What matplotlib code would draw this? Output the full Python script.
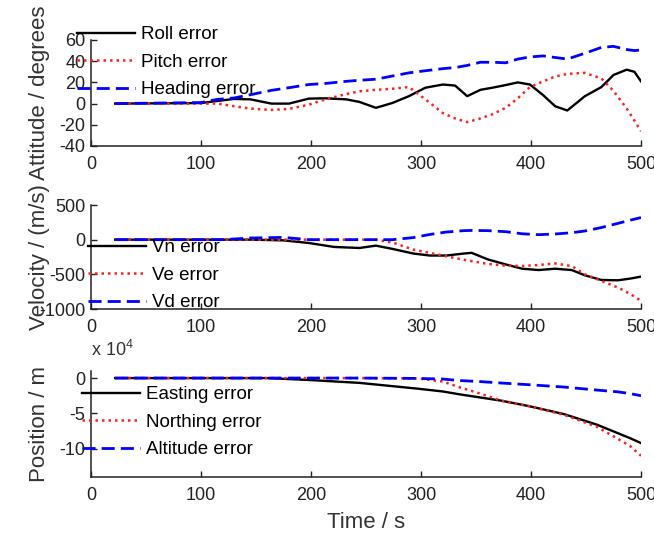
import matplotlib
matplotlib.use("Agg")
import matplotlib.pyplot as plt

plt.rcParams['font.family'] = ['Liberation Sans', 'DejaVu Sans']
plt.rcParams['mathtext.fontset'] = 'custom'
plt.rcParams['mathtext.rm'] = 'Liberation Sans'
plt.rcParams['axes.unicode_minus'] = False

# ---- attitude panel ----
t_att = [22, 100, 115, 130, 145, 164, 180, 198, 213, 232, 244, 259, 274, 289, 304, 320,
         331, 342, 354, 365, 377, 388, 399, 411, 422, 433, 449, 464, 475, 487, 494, 500]
roll_err = [0, 0.5, 2.5, 4.4, 4, 0, 0, 4.7, 5, 4, 1.6, -4, 0.6, 7, 15, 18,
            17, 7, 13, 15, 17.5, 20, 18, 8, -2.5, -6.5, 7, 15.6, 27, 32, 30, 21]
pitch_err = [0, 0, 0, -2.5, -4.7, -6, -5, -1, 4, 9, 11.6, 13, 14, 15.6, 4, -9,
             -14, -17.5, -14, -10, -4, 5, 15.6, 21, 25.5, 28, 29, 23.7, 12, -4.6, -16, -26]
heading_err = [0, 1, 4, 5.3, 8.4, 12.5, 15, 18, 19, 21, 22, 23, 26, 29, 31, 33,
               34, 36, 39, 39, 38.5, 42, 44, 45, 43.5, 42, 47.5, 53, 54, 51, 50, 50.6]

# ---- velocity panel ----
t_vel = [22, 120, 145, 175, 198, 221, 244, 259, 274, 293, 308, 323, 339, 346, 361,
         377, 392, 407, 422, 437, 449, 464, 479, 490, 500]
vn_err = [0, 0, 0, -10, -48, -105, -120, -86, -133, -200, -229, -229, -200, -190, -286,
          -357, -419, -438, -419, -438, -514, -581, -586, -562, -533]
ve_err = [0, 0, 0, 0, 0, 0, 0, 0, -40, -143, -190, -240, -290, -310, -350,
          -375, -380, -365, -343, -381, -500, -595, -690, -780, -881]
vd_err = [0, 0, 24, 33, 0, 0, 0, 0, 0, 30, 75, 110, 130, 133, 130,
          115, 85, 72, 82, 100, 125, 175, 235, 280, 319]

# ---- position panel (x 10^4 m) ----
t_pos = [22, 160, 198, 244, 297, 320, 335, 354, 373, 399, 430, 460, 479, 490, 500]
east_err = [0, 0, -0.27, -0.68, -1.5, -1.9, -2.3, -2.75, -3.2, -4.0, -5.1, -6.6, -7.8, -8.5, -9.2]
north_err = [0, 0, 0, 0, -0.05, -0.5, -1.3, -2.2, -3.2, -4.0, -5.2, -6.9, -8.6, -9.6, -11]
alt_err = [0, 0, 0, 0, -0.05, -0.14, -0.35, -0.5, -0.7, -0.95, -1.27, -1.7, -1.95, -2.2, -2.5]

x_ticks = [0, 100, 200, 300, 400, 500]

W, H = 654, 533
fig = plt.figure(figsize=(W / 100, H / 100), dpi=100)


def px_axes(top, bottom, left=91, right=641):
    return fig.add_axes([left / W, 1 - bottom / H, (right - left) / W, (bottom - top) / H])


def style(ax, ylim, yticks, ylabel):
    ax.set_xlim(0, 500)
    ax.set_ylim(*ylim)
    ax.set_xticks(x_ticks)
    ax.set_yticks(yticks)
    for s in ['top', 'right']:
        ax.spines[s].set_visible(False)
    for s in ['left', 'bottom']:
        ax.spines[s].set_linewidth(1.1)
        ax.spines[s].set_color('#222222')
    ax.tick_params(direction='in', length=4, width=1, labelsize=13, colors='#222222')
    ax.tick_params(axis='x', pad=7)
    ax.tick_params(axis='y', pad=4)
    ax.set_ylabel(ylabel, fontsize=16, color='#333333')
    ax.yaxis.set_label_coords(-0.075, 0.5)


def lines(ax, t, a, b, c, labels, anchor):
    ax.plot(t, a, color='black', lw=1.7, label=labels[0])
    ax.plot(t, b, color='#ff2020', lw=1.8, ls=(0, (1, 1.6)), label=labels[1])
    ax.plot(t, c, color='#0000ff', lw=2.0, ls=(0, (4.7, 2.2)), label=labels[2])
    ax.legend(loc='upper left', bbox_to_anchor=(anchor[0] / W, 1 - anchor[1] / H),
              bbox_transform=fig.transFigure, frameon=False, fontsize=13.5,
              handlelength=3.1, handletextpad=0.3, labelspacing=0.56,
              borderpad=0, borderaxespad=0)


ax1 = px_axes(40, 146)
lines(ax1, t_att, roll_err, pitch_err, heading_err,
      ['Roll error', 'Pitch error', 'Heading error'], (77, 26))
style(ax1, (-40, 60), [-40, -20, 0, 20, 40, 60], 'Attitude / degrees')

ax2 = px_axes(205, 309)
lines(ax2, t_vel, vn_err, ve_err, vd_err,
      ['Vn error', 'Ve error', 'Vd error'], (88, 239))
style(ax2, (-1000, 500), [-1000, -500, 0, 500], 'Velocity / (m/s)')

ax3 = px_axes(371, 477)
lines(ax3, t_pos, east_err, north_err, alt_err,
      ['Easting error', 'Northing error', 'Altitude error'], (82, 386))
style(ax3, (-14, 1), [-10, -5, 0], 'Position / m')
ax3.text(0, 1.1, 'x 10$^4$', transform=ax3.transAxes, fontsize=13, va='bottom',
         ha='left', color='#333333')
ax3.set_xlabel('Time / s', fontsize=16, color='#333333', labelpad=6)

fig.savefig('out.png', dpi=100)
